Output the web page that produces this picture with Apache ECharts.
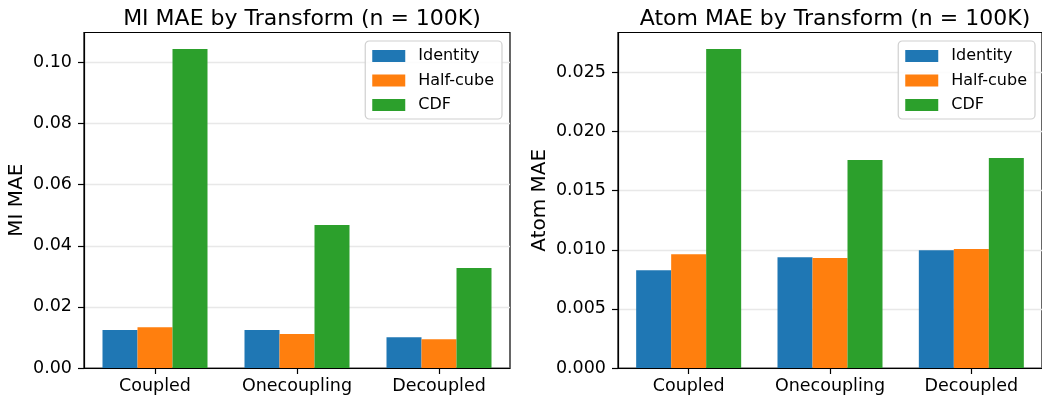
<!DOCTYPE html>
<html>
<head>
<meta charset="utf-8">
<script src="https://cdn.jsdelivr.net/npm/echarts@6/dist/echarts.min.js"></script>
<style>
  html, body { margin: 0; padding: 0; background: #fff; }
  #chart { width: 1042px; height: 395px; }
</style>
</head>
<body>
<div id="chart"></div>
<script>
// Mean absolute error per transform, grouped by coupling regime
const categories = ['Coupled', 'Onecoupling', 'Decoupled'];
const transforms = ['Identity', 'Half-cube', 'CDF'];

const miIdentity = [0.0124, 0.0124, 0.0101];
const miHalfCube = [0.0133, 0.0111, 0.0094];
const miCdf = [0.1044, 0.0468, 0.0327];

const atomIdentity = [0.00828, 0.00938, 0.00997];
const atomHalfCube = [0.00963, 0.00930, 0.01006];
const atomCdf = [0.0270, 0.0176, 0.01777];

const miTicks = [0, 0.02, 0.04, 0.06, 0.08, 0.10];
const atomTicks = [0, 0.005, 0.010, 0.015, 0.020, 0.025];

const colors = ['#1f77b4', '#ff7f0e', '#2ca02c'];
const FONT = 'DejaVu Sans';

const chart = echarts.init(document.getElementById('chart'), null, { renderer: 'canvas' });

function yAxis(gridIndex, name, ticks, max, digits, gap) {
  return {
    type: 'value', gridIndex, min: 0, max,
    interval: ticks[1] - ticks[0],
    name, nameLocation: 'middle', nameGap: gap, nameRotate: 90,
    nameTextStyle: { fontFamily: FONT, fontSize: 20, color: '#000' },
    axisLine: { show: true, lineStyle: { color: '#000', width: 1.2 } },
    axisTick: { show: true, length: 6, lineStyle: { color: '#000', width: 1.2 }, customValues: ticks },
    axisLabel: {
      fontFamily: FONT, fontSize: 17.5, color: '#000', margin: 12,
      customValues: ticks,
      formatter: v => v.toFixed(digits)
    },
    splitLine: { show: true, lineStyle: { color: '#e8e8e8', width: 1.3 } }
  };
}

function xAxis(gridIndex) {
  return {
    type: 'category', gridIndex, data: categories,
    axisLine: { show: true, lineStyle: { color: '#000', width: 1.2 } },
    axisTick: { show: true, alignWithLabel: true, length: 6, lineStyle: { color: '#000', width: 1.2 } },
    axisLabel: { fontFamily: FONT, fontSize: 17.5, color: '#000', margin: 9, interval: 0, hideOverlap: false },
    splitLine: { show: false }
  };
}

function legend(right) {
  return {
    orient: 'vertical', right, top: 41,
    data: transforms,
    itemWidth: 33, itemHeight: 12, itemGap: 8.5,
    padding: [7, 8, 6, 7],
    icon: 'rect',
    borderColor: '#d0d0d0', borderWidth: 1.2, borderRadius: 4,
    backgroundColor: 'rgba(255,255,255,0.85)',
    textStyle: { fontFamily: FONT, fontSize: 16, color: '#000', lineHeight: 16, padding: [0, 0, 0, 8] },
    selectedMode: false
  };
}

function bars(name, data, idx, axisIndex) {
  return {
    name, type: 'bar', data,
    xAxisIndex: axisIndex, yAxisIndex: axisIndex,
    barWidth: 35, barGap: '0%',
    itemStyle: { color: colors[idx] },
    emphasis: { disabled: true },
    animation: false
  };
}

chart.setOption({
  animation: false,
  color: colors,
  title: [
    { text: 'MI MAE by Transform (n = 100K)', left: 297, top: 3, textAlign: 'center',
      textStyle: { fontFamily: FONT, fontSize: 22, fontWeight: 'normal', color: '#000' } },
    { text: 'Atom MAE by Transform (n = 100K)', left: 830, top: 3, textAlign: 'center',
      textStyle: { fontFamily: FONT, fontSize: 22, fontWeight: 'normal', color: '#000' } }
  ],
  legend: [legend(540), legend(7)],
  grid: [
    { left: 84, right: 532, top: 32.5, bottom: 27, show: true, borderColor: '#000', borderWidth: 1.2, backgroundColor: 'transparent' },
    { left: 618, right: -1, top: 32.5, bottom: 27, show: true, borderColor: '#000', borderWidth: 1.2, backgroundColor: 'transparent' }
  ],
  xAxis: [xAxis(0), xAxis(1)],
  yAxis: [
    yAxis(0, 'MI MAE', miTicks, 0.1098, 2, 57),
    yAxis(1, 'Atom MAE', atomTicks, 0.02839, 3, 68)
  ],
  series: [
    bars('Identity', miIdentity, 0, 0),
    bars('Half-cube', miHalfCube, 1, 0),
    bars('CDF', miCdf, 2, 0),
    bars('Identity', atomIdentity, 0, 1),
    bars('Half-cube', atomHalfCube, 1, 1),
    bars('CDF', atomCdf, 2, 1)
  ]
});
</script>
</body>
</html>
